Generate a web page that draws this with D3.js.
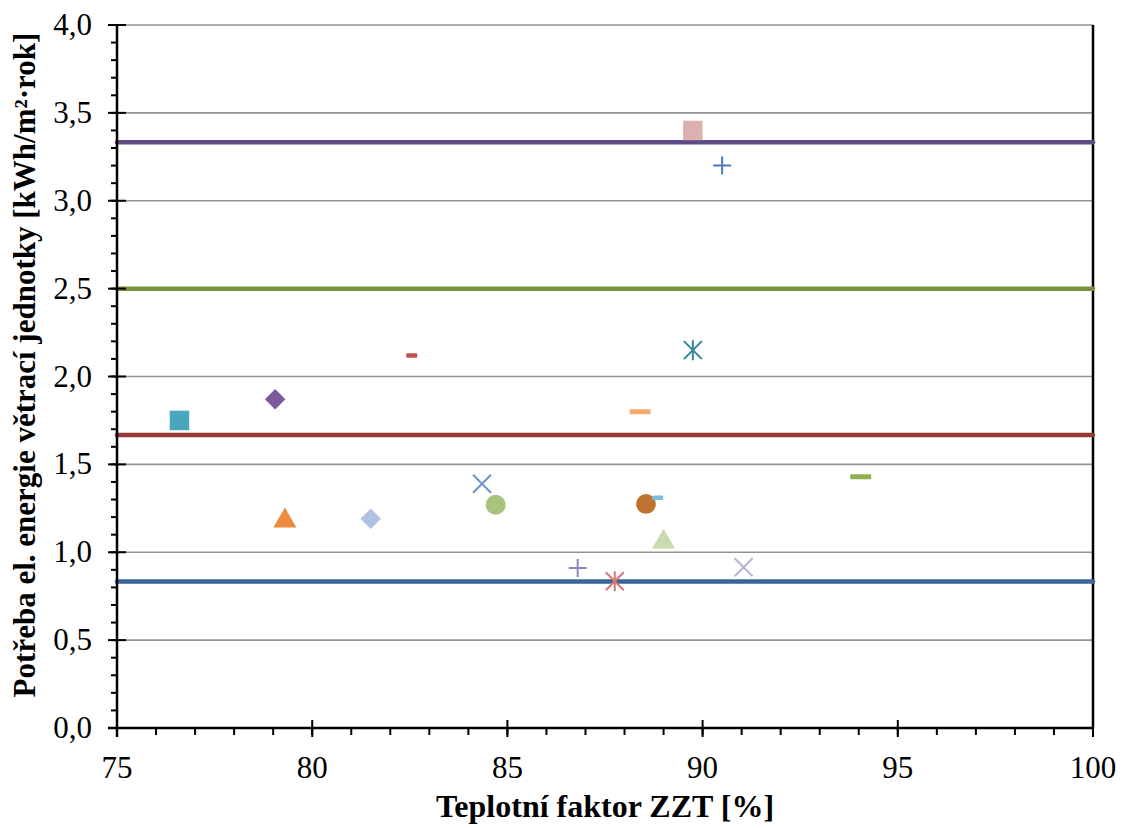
<!DOCTYPE html>
<html>
<head>
<meta charset="utf-8">
<script src="https://cdn.jsdelivr.net/npm/d3@7"></script>
<style>
  body { margin: 0; background: #fff; }
</style>
</head>
<body>
<svg width="1122" height="828"></svg>
<script>
// reference levels (horizontal lines)
const levelValues = [3.333, 2.5, 1.667, 0.833];
const levelColors = ['#5f4b86', '#77933c', '#953735', '#3a6496'];

// points: teplotni faktor [%], potreba el. energie [kWh/m2.rok]
const pointX = [76.6, 79.05, 82.55, 79.3, 81.5, 84.35, 84.7, 88.4, 88.55, 88.85, 89.0, 89.75, 90.5, 89.75, 86.8, 87.75, 91.05, 94.05];
const pointY = [1.75, 1.87, 2.12, 1.19, 1.19, 1.39, 1.27, 1.80, 1.275, 1.31, 1.07, 3.40, 3.20, 2.15, 0.91, 0.835, 0.915, 1.43];
const pointShape = ['square', 'diamond', 'dashS', 'triangle', 'diamond', 'x', 'circle', 'dash', 'circle', 'dashS', 'triangle', 'square', 'plus', 'star', 'plus', 'star', 'x', 'dash'];
const pointColor = ['#4aa6bf', '#7a5a9a', '#c0504d', '#ee8b3e', '#b0c2df', '#7093c9', '#a7c47c', '#f9a86c', '#c0722f', '#76bfd8', '#c9dbad', '#ddb0b0', '#4a7cbc', '#31859c', '#9583b6', '#d87572', '#bab2d3', '#8fb050'];

const xTicks = [75, 80, 85, 90, 95, 100];
const yTicks = [0, 0.5, 1, 1.5, 2, 2.5, 3, 3.5, 4];

const FONT = "'Liberation Serif'";

const svg = d3.select('svg');
const pLeft = 117, pRight = 1093, pTop = 25, pBottom = 728;

const x = d3.scaleLinear().domain([75, 100]).range([pLeft, pRight]);
const y = d3.scaleLinear().domain([0, 4]).range([pBottom, pTop]);
const fmt = d => d3.format('.1f')(d).replace('.', ',');

// gridlines
svg.append('g').selectAll('line')
    .data(yTicks.filter(d => d > 0))
    .join('line')
    .attr('x1', pLeft).attr('x2', pRight)
    .attr('y1', d => y(d)).attr('y2', d => y(d))
    .attr('stroke', '#929292').attr('stroke-width', 1.6);

// right border
svg.append('line')
    .attr('x1', pRight).attr('x2', pRight).attr('y1', pTop).attr('y2', pBottom)
    .attr('stroke', '#000').attr('stroke-width', 2.5);

// level lines
svg.append('g').selectAll('line')
    .data(levelValues)
    .join('line')
    .attr('x1', pLeft).attr('x2', pRight)
    .attr('y1', d => y(d)).attr('y2', d => y(d))
    .attr('stroke', (d, i) => levelColors[i])
    .attr('stroke-width', 4.5)
    .attr('stroke-linecap', 'round');

// axes
const xMinor = d3.range(75, 101, 1);
const yMinor = d3.range(0, 4.001, 0.1);

const gx = svg.append('g');
gx.selectAll('line.minor').data(xMinor).join('line')
    .attr('x1', d => x(d)).attr('x2', d => x(d))
    .attr('y1', pBottom).attr('y2', pBottom + 7)
    .attr('stroke', '#000').attr('stroke-width', 2);
gx.selectAll('line.major').data(xTicks).join('line')
    .attr('x1', d => x(d)).attr('x2', d => x(d))
    .attr('y1', pBottom - 8).attr('y2', pBottom + 9)
    .attr('stroke', '#000').attr('stroke-width', 2);
gx.append('line')
    .attr('x1', pLeft - 9).attr('x2', pRight + 1).attr('y1', pBottom).attr('y2', pBottom)
    .attr('stroke', '#000').attr('stroke-width', 2.5);
gx.selectAll('text').data(xTicks).join('text')
    .attr('x', d => x(d)).attr('y', 778)
    .attr('text-anchor', 'middle')
    .attr('font-family', FONT)
    .attr('font-size', 31)
    .text(d => d);

const gy = svg.append('g');
gy.selectAll('line.minor').data(yMinor).join('line')
    .attr('x1', pLeft - 6).attr('x2', pLeft)
    .attr('y1', d => y(d)).attr('y2', d => y(d))
    .attr('stroke', '#000').attr('stroke-width', 2);
gy.selectAll('line.major').data(yTicks).join('line')
    .attr('x1', pLeft - 9).attr('x2', pLeft + 9)
    .attr('y1', d => y(d)).attr('y2', d => y(d))
    .attr('stroke', '#000').attr('stroke-width', 2);
gy.append('line')
    .attr('x1', pLeft).attr('x2', pLeft).attr('y1', pTop - 1).attr('y2', pBottom + 9)
    .attr('stroke', '#000').attr('stroke-width', 2.5);
gy.selectAll('text').data(yTicks).join('text')
    .attr('x', 92).attr('y', d => y(d) + 10)
    .attr('text-anchor', 'end')
    .attr('font-family', FONT)
    .attr('font-size', 31)
    .text(fmt);

// axis titles
svg.append('text')
    .attr('x', 605).attr('y', 817)
    .attr('text-anchor', 'middle')
    .attr('font-family', FONT)
    .attr('font-size', 32).attr('font-weight', 'bold')
    .text('Teplotní faktor ZZT [%]');

svg.append('text')
    .attr('transform', 'translate(35,365) rotate(-90)')
    .attr('text-anchor', 'middle')
    .attr('font-family', FONT)
    .attr('font-size', 31).attr('font-weight', 'bold')
    .text('Potřeba el. energie větrací jednotky [kWh/m²·rok]');

// markers
const sym = {
    square: d3.symbolSquare, diamond: d3.symbolSquare, triangle: d3.symbolTriangle,
    circle: d3.symbolCircle
};
const size = { square: 380, diamond: 210, triangle: 230, circle: 310 };

const pts = svg.append('g');
pointX.forEach((px, i) => {
    const s = pointShape[i], c = pointColor[i];
    const cx = x(px), cy = y(pointY[i]);
    if (s === 'dash' || s === 'dashS') {
        const w = s === 'dash' ? 21 : 11, h = s === 'dash' ? 5 : 4.5;
        pts.append('rect')
            .attr('x', cx - w / 2).attr('y', cy - h / 2)
            .attr('width', w).attr('height', h).attr('rx', 1)
            .attr('fill', c);
    } else if (s === 'plus') {
        pts.append('path')
            .attr('transform', `translate(${cx},${cy})`)
            .attr('d', 'M-9,0H9M0,-9V9')
            .attr('stroke', c).attr('stroke-width', 2).attr('fill', 'none');
    } else if (s === 'x') {
        pts.append('path')
            .attr('transform', `translate(${cx},${cy})`)
            .attr('d', 'M-9,-9L9,9M-9,9L9,-9')
            .attr('stroke', c).attr('stroke-width', 2).attr('fill', 'none');
    } else if (s === 'star') {
        pts.append('path')
            .attr('transform', `translate(${cx},${cy})`)
            .attr('d', 'M-9,-9L9,9M-9,9L9,-9M0,-10V10')
            .attr('stroke', c).attr('stroke-width', 2).attr('fill', 'none');
    } else {
        const rot = s === 'diamond' ? ' rotate(45)' : '';
        pts.append('path')
            .attr('transform', `translate(${cx},${cy + (s === 'triangle' ? 2 : 0)})${rot}`)
            .attr('d', d3.symbol().type(sym[s]).size(size[s])())
            .attr('fill', c);
    }
});
</script>
</body>
</html>
